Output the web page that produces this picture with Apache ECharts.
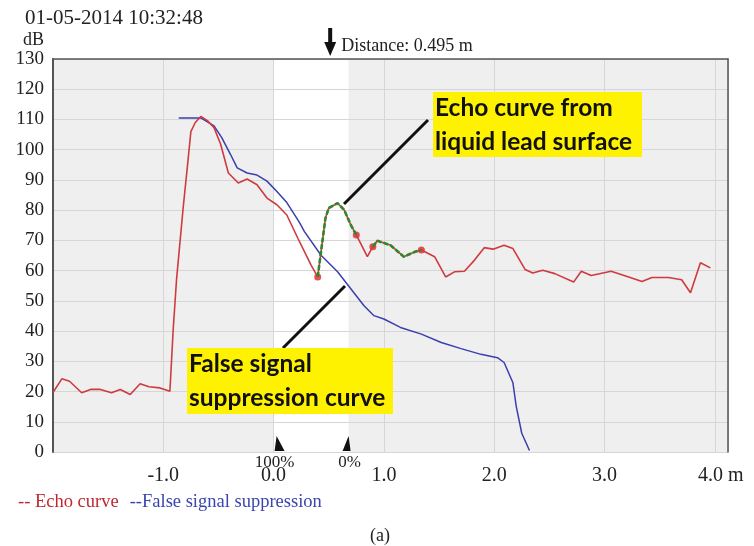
<!DOCTYPE html>
<html>
<head>
<meta charset="utf-8">
<script src="https://cdn.jsdelivr.net/npm/echarts@6/dist/echarts.min.js"></script>
<style>
html,body{margin:0;padding:0;background:#fff;}
#main{width:754px;height:546px;}
</style>
</head>
<body>
<div id="main"></div>
<script>
// echo curve (red), distance in m / level in dB
var echoX = [-2.00,-1.92,-1.85,-1.74,-1.66,-1.57,-1.47,-1.39,-1.30,-1.21,-1.13,-1.03,-0.94,-0.91,-0.88,-0.82,-0.78,-0.75,-0.71,-0.66,
	-0.60,-0.54,-0.48,-0.41,-0.32,-0.24,-0.15,-0.06,0.03,0.12,0.22,0.34,0.40,0.47,0.50,0.58,0.64,0.70,0.75,0.85,0.90,
	0.94,1.06,1.18,1.28,1.34,1.46,1.56,1.64,1.73,1.82,1.91,1.99,2.09,2.17,2.28,2.35,2.44,2.55,2.72,2.79,2.88,3.06,3.22,
	3.34,3.43,3.58,3.70,3.78,3.87,3.96];
var echoY = [19.7,24.2,23.4,19.6,20.7,20.7,19.6,20.7,19.0,22.6,21.6,21.2,20.1,40.7,57.0,80.7,95.0,106.0,109.0,111.0,
	109.6,107.3,101.8,92.3,89.0,90.3,88.4,84.0,81.8,78.4,70.7,61.8,57.9,77.3,80.7,82.3,80.1,75.1,71.8,64.6,67.9,
	69.9,68.4,64.6,66.2,66.8,64.6,57.9,59.6,59.8,63.4,67.6,67.1,68.4,67.3,60.4,59.2,60.1,59.0,56.2,59.8,58.4,59.8,57.9,
	56.4,57.7,57.7,57.0,52.7,62.6,60.9];
// false signal suppression curve (blue)
var fssX = [-0.86,-0.66,-0.54,-0.47,-0.39,-0.33,-0.24,-0.15,-0.06,0.03,0.12,0.23,0.28,0.43,0.58,0.70,0.82,0.91,1.00,
	1.15,1.34,1.52,1.70,1.88,2.03,2.09,2.17,2.20,2.25,2.32];
var fssY = [110.5,110.5,107.9,104.0,98.4,94.0,92.3,91.6,89.6,86.2,82.5,76.2,72.9,65.1,59.6,54.0,48.4,45.1,44.0,
	41.2,39.0,36.2,34.2,32.3,31.2,29.6,22.9,15.1,6.2,0.5];
// green parts = echo from liquid lead surface
var peak1X = [0.40,0.47,0.50,0.58,0.64,0.70,0.75];
var peak1Y = [57.9,77.3,80.7,82.3,80.1,75.1,71.8];
var peak2X = [0.90,0.94,1.06,1.18,1.28,1.34];
var peak2Y = [67.9,69.9,68.4,64.6,66.2,66.8];
// red markers
var dotX = [0.40,0.75,0.90,1.34];
var dotY = [57.9,71.8,67.9,66.8];

var xMin = -2, xMax = 4.12;
var bandStart = 0, bandEnd = 0.68;   // 100% .. 0%
var distance = 0.495;

function zip(xs, ys){
	var res = [];
	for(var i = 0; i < xs.length; i++){
		res.push([xs[i], ys[i]]);
	}
	return res;
}

var serif = 'Liberation Serif';
var myChart = echarts.init(document.getElementById('main'));

var option = {
	animation: false,
	backgroundColor: '#fff',
	textStyle: {fontFamily: serif},
	title: [
		{text: '01-05-2014 10:32:48', left: 20, top: 3, textStyle: {fontFamily: serif, fontSize: 21, fontWeight: 'normal', color: '#222'}},
		{text: 'dB', left: 18, top: 26, textStyle: {fontFamily: serif, fontSize: 18, fontWeight: 'normal', color: '#222'}},
		{text: '(a)', left: 365, top: 522, textStyle: {fontFamily: serif, fontSize: 18, fontWeight: 'normal', color: '#222'}}
	],
	legend: {
		left: 8,
		top: 488,
		icon: 'none',
		itemWidth: 0,
		itemGap: 6,
		selectedMode: false,
		data: [
			{name: 'Echo curve', textStyle: {color: '#c0272d'}},
			{name: 'False signal suppression', textStyle: {color: '#3a45b0'}}
		],
		formatter: function(name){
			return name == 'Echo curve' ? '-- Echo curve' : '--False signal suppression';
		},
		textStyle: {fontFamily: serif, fontSize: 18.5}
	},
	grid: {left: 53, right: 26, top: 59, bottom: 94},
	xAxis: [{
		type: 'value',
		min: xMin,
		max: xMax,
		interval: 1,
		axisLine: {show: false, onZero: false},
		axisTick: {show: false},
		splitLine: {lineStyle: {color: '#d6d6d6', width: 1}},
		axisLabel: {
			margin: 14,
			fontFamily: serif,
			fontSize: 20,
			color: '#222',
			formatter: function(v){
				if(Math.abs(v - Math.round(v)) > 1e-6 || v < -1.5) return '';
				if(Math.round(v) == 4) return '{m|4.0 m}';
				return v.toFixed(1);
			},
			rich: {m: {fontFamily: serif, fontSize: 20, color: '#222', padding: [0, 0, 0, 12]}}
		}
	}, {
		type: 'value',
		position: 'top',
		min: xMin,
		max: xMax,
		axisLine: {show: true, onZero: false, lineStyle: {color: '#555', width: 1.5}},
		axisTick: {show: false},
		axisLabel: {show: false},
		splitLine: {show: false}
	}],
	yAxis: [{
		type: 'value',
		min: 0,
		max: 130,
		interval: 10,
		axisLine: {show: true, onZero: false, lineStyle: {color: '#555', width: 2}},
		axisTick: {show: false},
		splitLine: {lineStyle: {color: '#d6d6d6', width: 1}},
		axisLabel: {margin: 9, fontFamily: serif, fontSize: 19, color: '#222'}
	}, {
		type: 'value',
		position: 'right',
		min: 0,
		max: 130,
		axisLine: {show: true, onZero: false, lineStyle: {color: '#555', width: 1.5}},
		axisTick: {show: false},
		axisLabel: {show: false},
		splitLine: {show: false}
	}],
	series: [
		{
			name: 'band',
			type: 'line',
			z: -1,
			data: [],
			markArea: {
				silent: true,
				z: -1,
				itemStyle: {color: '#efefef'},
				data: [
					[{xAxis: xMin}, {xAxis: bandStart}],
					[{xAxis: bandEnd}, {xAxis: xMax}]
				]
			}
		},
		{
			name: 'False signal suppression',
			type: 'line',
			data: zip(fssX, fssY),
			showSymbol: false,
			color: '#3a45b0',
			lineStyle: {color: '#3a3fae', width: 1.5}
		},
		{
			name: 'Echo curve',
			type: 'line',
			data: zip(echoX, echoY),
			showSymbol: false,
			color: '#c0272d',
			lineStyle: {color: '#cf3a3f', width: 1.6}
		},
		{
			name: 'peak1',
			type: 'line',
			data: zip(peak1X, peak1Y),
			showSymbol: false,
			lineStyle: {color: '#2b8a2b', width: 2.6, type: [5, 2]}
		},
		{
			name: 'peak2',
			type: 'line',
			data: zip(peak2X, peak2Y),
			showSymbol: false,
			lineStyle: {color: '#2b8a2b', width: 2.6, type: [5, 2]}
		},
		{
			name: 'dots',
			type: 'scatter',
			data: zip(dotX, dotY),
			symbolSize: 7,
			itemStyle: {color: '#e0262a'}
		}
	]
};
myChart.setOption(option);

// annotations: arrows, markers and yellow boxes
var pDist = myChart.convertToPixel({gridIndex: 0}, [distance, 130]);
var p100 = myChart.convertToPixel({gridIndex: 0}, [bandStart, 0]);
var p0 = myChart.convertToPixel({gridIndex: 0}, [bandEnd, 0]);
var boxText = {fontFamily: 'Lato', fontWeight: 'bold', fontSize: 24.5, fill: '#111', lineHeight: 34};

myChart.setOption({
	graphic: [
		{type: 'rect', shape: {x: pDist[0], y: 28, width: 4, height: 16}, style: {fill: '#111'}},
		{type: 'polygon', shape: {points: [[pDist[0] - 4, 42], [pDist[0] + 8, 42], [pDist[0] + 2, 56]]}, style: {fill: '#111'}},
		{type: 'text', x: pDist[0] + 13, y: 37, style: {text: 'Distance: 0.495 m', fontFamily: serif, fontSize: 18, fill: '#222'}},
		{type: 'polygon', shape: {points: [[p100[0] + 3, p100[1] - 16], [p100[0] + 1, p100[1] - 1], [p100[0] + 11, p100[1] - 1]]}, style: {fill: '#111'}},
		{type: 'polygon', shape: {points: [[p0[0], p0[1] - 16], [p0[0] - 6, p0[1] - 1], [p0[0] + 2, p0[1] - 1]]}, style: {fill: '#111'}},
		{type: 'text', x: p100[0] + 1, y: p100[1] + 2, style: {text: '100%', fontFamily: serif, fontSize: 17, fill: '#222', align: 'center'}},
		{type: 'text', x: p0[0] + 1, y: p0[1] + 2, style: {text: '0%', fontFamily: serif, fontSize: 17, fill: '#222', align: 'center'}},
		{type: 'line', shape: {x1: 428, y1: 120, x2: 344, y2: 204}, style: {stroke: '#111', lineWidth: 3}},
		{type: 'line', shape: {x1: 283, y1: 348, x2: 345, y2: 286}, style: {stroke: '#111', lineWidth: 3}},
		{type: 'rect', shape: {x: 433, y: 92, width: 209, height: 65}, style: {fill: '#fff200'}},
		{type: 'text', x: 435, y: 91, style: Object.assign({text: 'Echo curve from\nliquid lead surface'}, boxText)},
		{type: 'rect', shape: {x: 187, y: 348, width: 206, height: 66}, style: {fill: '#fff200'}},
		{type: 'text', x: 189, y: 347, style: Object.assign({text: 'False signal\nsuppression curve'}, boxText)}
	]
});
</script>
</body>
</html>
